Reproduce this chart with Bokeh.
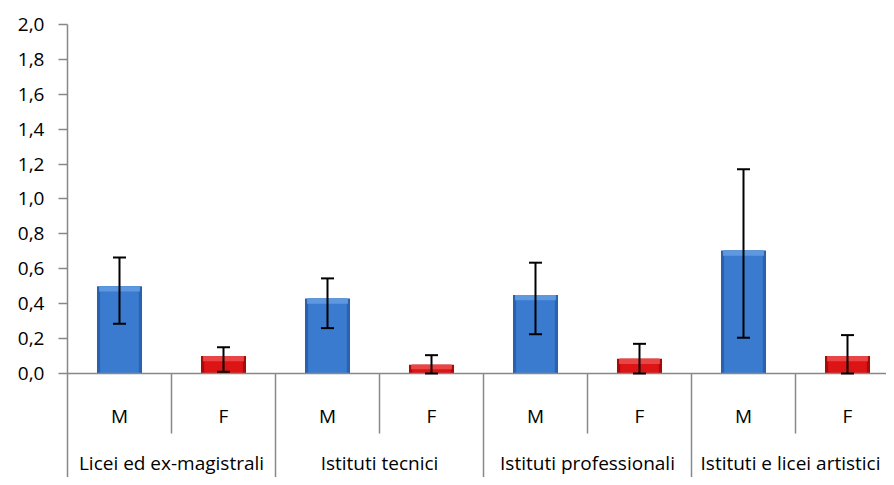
from bokeh.plotting import figure
from bokeh.models import (ColumnDataSource, Range1d, FixedTicker, CustomJSTickFormatter,
                          Whisker, TeeHead, Span)
from bokeh.core.properties import value
from bokeh.embed import file_html
from bokeh.resources import INLINE

# ---- data ----
groups = ["Licei ed ex-magistrali", "Istituti tecnici", "Istituti professionali", "Istituti e licei artistici"]
sexes = ["M", "F", "M", "F", "M", "F", "M", "F"]
values = [0.50, 0.10, 0.43, 0.05, 0.45, 0.085, 0.705, 0.10]
err_low = [0.285, 0.01, 0.26, 0.0, 0.225, 0.0, 0.205, 0.0]
err_high = [0.665, 0.15, 0.545, 0.105, 0.635, 0.17, 1.17, 0.22]
y_ticks = [0.0, 0.2, 0.4, 0.6, 0.8, 1.0, 1.2, 1.4, 1.6, 1.8, 2.0]

BLUE = "#3a7bd0"
BLUE_EDGE = "#2b62ad"
BLUE_LIGHT = "#5d98e0"
RED = "#dd1414"
RED_EDGE = "#a80a0a"
RED_LIGHT = "#ea4444"
FONT = "Open Sans"

x = [i + 0.5 for i in range(len(values))]
fills = [BLUE if s == "M" else RED for s in sexes]
edges = [BLUE_EDGE if s == "M" else RED_EDGE for s in sexes]
lights = [BLUE_LIGHT if s == "M" else RED_LIGHT for s in sexes]

src = ColumnDataSource(dict(x=x, v=values, lo=err_low, hi=err_high, fill=fills,
                            edge=edges, light=lights, sex=sexes))

y_start, y_end = -0.596, 2.0458
p = figure(width=886, height=477, output_backend="svg", toolbar_location=None,
           x_range=Range1d(0, 7.875), y_range=Range1d(y_start, y_end),
           min_border_left=67, min_border_right=0, min_border_top=16, min_border_bottom=0)
p.outline_line_color = None
p.xgrid.visible = False
p.ygrid.visible = False
p.xaxis.visible = False

ya = p.yaxis[0]
ya.ticker = FixedTicker(ticks=y_ticks)
ya.formatter = CustomJSTickFormatter(code="return tick.toFixed(1).replace('.', ',');")
ya.bounds = (y_start, 2.0)
ya.axis_line_color = "#888888"
ya.axis_line_width = 1.5
ya.major_tick_line_color = "#888888"
ya.major_tick_line_width = 1.5
ya.major_tick_out = 9
ya.major_tick_in = 0
ya.minor_tick_line_color = None
ya.major_label_standoff = 14
ya.major_label_text_font = FONT
ya.major_label_text_font_size = "19px"
ya.major_label_text_color = "#000000"

# bars (darker rim, main fill, lighter top bevel)
bw = 0.433
p.vbar(x="x", top="v", bottom=0, width=bw, fill_color="edge", line_color=None, source=src)
p.vbar(x="x", top="v", bottom=0, width=bw - 0.06, fill_color="fill", line_color=None, source=src)
hl = ColumnDataSource(dict(x=x, top=values, bottom=[max(v - 0.03, v * 0.5) for v in values],
                           light=lights))
p.vbar(x="x", top="top", bottom="bottom", width=bw - 0.04, fill_color="light",
       line_color=None, source=hl)

# error bars
p.add_layout(Whisker(source=src, base="x", lower="lo", upper="hi", line_color="black",
                     line_width=2, level="overlay",
                     upper_head=TeeHead(size=13, line_color="black", line_width=2),
                     lower_head=TeeHead(size=13, line_color="black", line_width=2)))

# category axis line and separators
p.add_layout(Span(location=0, dimension="width", line_color="#888888", line_width=1.5))
minor_x = [1, 3, 5, 7]
p.segment(x0=minor_x, y0=[0] * 4, x1=minor_x, y1=[-0.344] * 4, line_color="#888888", line_width=1.5)
major_x = [2, 4, 6]
p.segment(x0=major_x, y0=[0] * 3, x1=major_x, y1=[y_start] * 3, line_color="#888888", line_width=1.5)

p.text(x="x", y=-0.246, text="sex", source=src, text_align="center", text_baseline="middle",
       text_font=value(FONT), text_font_size="19px", text_color="black")
gsrc = ColumnDataSource(dict(x=[1, 3, 5, 7], y=[-0.515] * 4, text=groups, dx=[0, 0, 0, -5]))
p.text(x="x", y="y", text="text", x_offset="dx", source=gsrc, text_align="center",
       text_baseline="middle", text_font=value(FONT), text_font_size="19px", text_color="black")

open("out.html", "w").write(file_html(p, INLINE))
